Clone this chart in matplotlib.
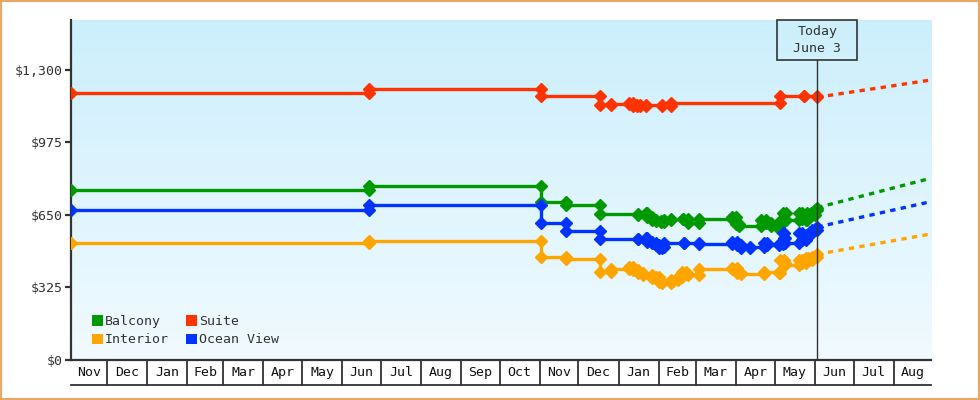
#!/usr/bin/python
# -*- coding: utf-8 -*-
import numpy as np
import pandas as pd
import matplotlib as mpl
mpl.use('Agg')
import matplotlib.pyplot as plt
import matplotlib.dates as mdates
import matplotlib.transforms as mtransforms
from matplotlib.patches import Patch, Rectangle

########data########
suite_dates = ['2022-11-03', '2023-06-22', '2023-11-02', '2023-12-18', '2023-12-26', '2024-01-09',
               '2024-01-12', '2024-01-15', '2024-01-18', '2024-01-22', '2024-02-04', '2024-02-11',
               '2024-05-05', '2024-05-24', '2024-06-03']
suite_prices = [1196, 1214, 1184, 1141, 1148, 1150, 1140, 1145, 1138, 1143, 1140, 1150, 1183, 1183, 1178]

balcony_dates = ['2022-11-03', '2023-06-22', '2023-11-02', '2023-11-21', '2023-12-18', '2024-01-16',
                 '2024-01-22', '2024-01-23', '2024-01-27', '2024-01-30', '2024-02-03', '2024-02-05',
                 '2024-02-11', '2024-02-20', '2024-02-24', '2024-03-03', '2024-03-29', '2024-04-01',
                 '2024-04-03', '2024-04-20', '2024-04-24', '2024-04-28', '2024-05-03', '2024-05-04',
                 '2024-05-07', '2024-05-10', '2024-05-20', '2024-05-22', '2024-05-25', '2024-05-26',
                 '2024-05-29', '2024-06-01', '2024-06-03']
balcony_prices = [762, 780, 710, 695, 655, 652, 658, 642, 627, 623, 620, 627, 632, 632, 612, 632, 640, 608,
                  602, 626, 615, 602, 598, 620, 658, 627, 658, 630, 627, 658, 650, 672, 683]

ocean_dates = ['2022-11-03', '2023-06-22', '2023-11-02', '2023-11-21', '2023-12-18', '2024-01-16',
               '2024-01-22', '2024-01-23', '2024-01-27', '2024-01-30', '2024-02-01', '2024-02-04',
               '2024-02-05', '2024-02-21', '2024-03-03', '2024-03-29', '2024-04-02', '2024-04-05',
               '2024-04-12', '2024-04-23', '2024-04-25', '2024-05-04', '2024-05-07', '2024-05-08',
               '2024-05-09', '2024-05-20', '2024-05-22', '2024-05-25', '2024-05-28', '2024-05-30',
               '2024-06-03']
ocean_prices = [672, 694, 613, 580, 542, 542, 548, 530, 523, 515, 501, 508, 523, 523, 520, 530, 515, 501,
                508, 523, 515, 519, 568, 546, 523, 568, 538, 560, 575, 583, 596]

interior_dates = ['2022-11-03', '2023-06-22', '2023-11-02', '2023-11-21', '2023-12-18', '2023-12-26',
                  '2024-01-09', '2024-01-12', '2024-01-16', '2024-01-20', '2024-01-27', '2024-01-30',
                  '2024-02-01', '2024-02-04', '2024-02-11', '2024-02-16', '2024-02-19', '2024-02-22',
                  '2024-02-24', '2024-03-03', '2024-03-29', '2024-04-02', '2024-04-05', '2024-04-23',
                  '2024-05-04', '2024-05-05', '2024-05-08', '2024-05-09', '2024-05-20', '2024-05-22',
                  '2024-05-25', '2024-05-27', '2024-05-30', '2024-06-03']
interior_prices = [526, 533, 463, 451, 394, 406, 418, 404, 389, 381, 366, 373, 351, 344, 359, 373, 396, 384,
                   381, 410, 411, 389, 384, 396, 389, 448, 433, 426, 448, 433, 456, 448, 463, 474]

forecast_dates = ['2024-06-03', '2024-08-30']
suite_forecast = [1178, 1255]
balcony_forecast = [683, 815]
ocean_forecast = [596, 710]
interior_forecast = [474, 565]

series_names = ['Balcony', 'Interior', 'Suite', 'Ocean View']
series_colors = ['#009900', '#FFA500', '#FF3300', '#0033FF']

y_ticks = [0, 325, 650, 975, 1300]
x_start, x_end = '2022-11-03', '2024-08-30'
today = '2024-06-03'
today_label = 'Today\nJune 3'

FONT = 'DejaVu Sans Mono'
FS = 9.5
INK = '#333333'


def to_num(dates):
    return mdates.date2num(pd.to_datetime(dates).to_pydatetime())


def step_points(dates, prices):
    # every price change gets a point at the old and the new value
    x = to_num(dates)
    xs, ys = [x[0]], [prices[0]]
    for i in range(1, len(x)):
        xs.append(x[i]); ys.append(prices[i - 1])
        xs.append(x[i]); ys.append(prices[i])
    return xs, ys


def draw_month_cells(ax, x0, x1):
    trans = mtransforms.blended_transform_factory(ax.transData, ax.transAxes)
    cell_h = 25.0 / 340
    starts = pd.date_range(pd.Timestamp(x0) + pd.offsets.MonthBegin(0), x1, freq='MS')
    edges = [to_num([x0])[0]] + list(to_num(list(starts))) + [to_num([x1])[0]]
    edges = sorted(set(edges))
    for e in edges[1:-1]:
        ax.plot([e, e], [0, -cell_h], transform=trans, color=INK, lw=1.3, clip_on=False)
    ax.plot([edges[0], edges[-1]], [-cell_h, -cell_h], transform=trans, color=INK, lw=1.3, clip_on=False)
    for a, b in zip(edges[:-1], edges[1:]):
        name = mdates.num2date(a).strftime('%b')
        ax.text((a + b) / 2.0, -cell_h / 2, name, transform=trans, ha='center', va='center',
                fontsize=FS, family=FONT, color='#111111')


def main():
    fig = plt.figure(figsize=(9.8, 4), dpi=100)
    ax = fig.add_axes([71 / 980.0, 40 / 400.0, 860 / 980.0, 340 / 400.0])

    # background gradient
    grad = np.linspace(0, 1, 256).reshape(-1, 1)
    top = np.array([0.80, 0.937, 0.99])
    bottom = np.array([0.945, 0.98, 1.0])
    img = top[None, None, :] * (1 - grad[:, :, None]) + bottom[None, None, :] * grad[:, :, None]
    ax.imshow(img, extent=[0, 1, 0, 1], transform=ax.transAxes, aspect='auto', zorder=0)

    data = {
        'Balcony': (balcony_dates, balcony_prices, balcony_forecast),
        'Interior': (interior_dates, interior_prices, interior_forecast),
        'Suite': (suite_dates, suite_prices, suite_forecast),
        'Ocean View': (ocean_dates, ocean_prices, ocean_forecast),
    }
    for name, color in zip(['Suite', 'Balcony', 'Ocean View', 'Interior'],
                           ['#FF3300', '#009900', '#0033FF', '#FFA500']):
        d, p, f = data[name]
        xs, ys = step_points(d, p)
        ax.plot(xs, ys, color=color, lw=2.4, marker='D', ms=6, zorder=3)
        ax.plot(to_num(forecast_dates), f, color=color, lw=2.4, dashes=(1.6, 1.6), zorder=3)

    x0, x1 = to_num([x_start])[0], to_num([x_end])[0]
    ax.set_xlim(x0, x1)
    ax.set_ylim(0, 1524)

    ax.spines['top'].set_visible(False)
    ax.spines['right'].set_visible(False)
    ax.spines['left'].set_color(INK)
    ax.spines['left'].set_linewidth(1.6)
    ax.spines['bottom'].set_color(INK)
    ax.spines['bottom'].set_linewidth(1.6)
    ax.set_xticks([])
    ax.set_yticks(y_ticks)
    ax.set_yticklabels(['$' + format(v, ',') for v in y_ticks])
    ax.tick_params(axis='y', direction='out', length=4, width=1.6, color=INK, pad=2,
                   labelsize=FS, labelcolor=INK)
    for lab in ax.get_yticklabels():
        lab.set_family(FONT)

    draw_month_cells(ax, x_start, x_end)

    # today marker
    tnum = to_num([today])[0]
    ax.axvline(tnum, ymin=0, ymax=300 / 340.0, color=INK, lw=1, zorder=4)
    xpix = ax.transData.transform((tnum, 0))[0]
    box = Rectangle(((xpix - 40) / 980.0, 340 / 400.0), 80 / 980.0, 40 / 400.0, transform=fig.transFigure,
                    fill=False, edgecolor=INK, lw=1.2, zorder=5)
    fig.patches.append(box)
    fig.text(xpix / 980.0, 360 / 400.0, today_label, ha='center', va='center', fontsize=FS,
             family=FONT, color=INK, linespacing=1.45)

    handles = [Patch(facecolor=c, edgecolor='none') for c in series_colors]
    leg = ax.legend(handles, series_names, ncol=2, loc='lower left', bbox_to_anchor=(0.024, 0.04),
                    frameon=False, handlelength=0.85, handleheight=0.85, handletextpad=0.15,
                    columnspacing=1.3, labelspacing=0.4, borderpad=0, borderaxespad=0,
                    prop={'family': FONT, 'size': FS})
    for t in leg.get_texts():
        t.set_color(INK)

    fig.patches.append(Rectangle((0, 0), 1, 1, transform=fig.transFigure, fill=False,
                                 edgecolor='#E8A865', lw=3))
    fig.savefig('out.png', dpi=100)
    plt.close(fig)


if __name__ == '__main__':
    main()
